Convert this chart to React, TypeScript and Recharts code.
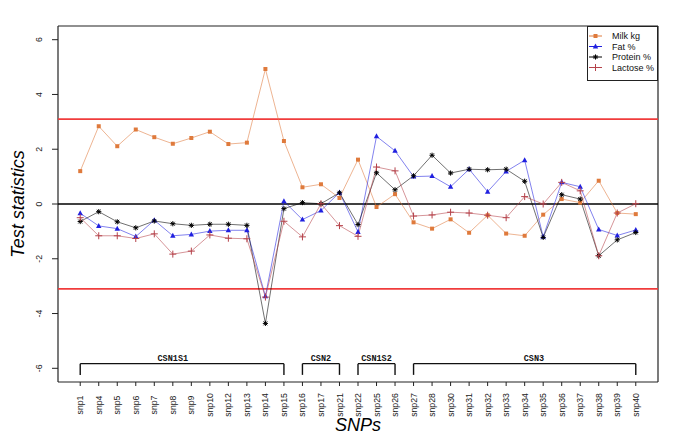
import { LineChart, Line, XAxis, YAxis, ReferenceLine, ReferenceDot, Legend } from "recharts";

const snps = [
    "snp1", "snp4", "snp5", "snp6", "snp7", "snp8", "snp9", "snp10", "snp12", "snp13", "snp14", "snp15",
    "snp16", "snp17", "snp21", "snp22", "snp25", "snp26", "snp27", "snp28", "snp30", "snp31", "snp32",
    "snp33", "snp34", "snp35", "snp36", "snp37", "snp38", "snp39", "snp40",
];

const milk = [1.2, 2.84, 2.11, 2.72, 2.44, 2.2, 2.41, 2.64, 2.19, 2.24, 4.93, 2.3, 0.61, 0.72, 0.22, 1.62, -0.11, 0.36, -0.67, -0.9, -0.56, -1.05, -0.41, -1.08, -1.16, -0.39, 0.18, 0.05, 0.85, -0.33, -0.37];
const fat = [-0.34, -0.8, -0.9, -1.19, -0.59, -1.16, -1.11, -0.99, -0.96, -0.96, -3.37, 0.1, -0.57, -0.24, 0.42, -1.02, 2.47, 1.94, 1.0, 1.02, 0.63, 1.27, 0.45, 1.19, 1.6, -1.2, 0.79, 0.63, -0.93, -1.15, -0.95];
const protein = [-0.64, -0.28, -0.65, -0.87, -0.62, -0.72, -0.78, -0.74, -0.74, -0.78, -4.36, -0.17, 0.05, 0.01, 0.41, -0.75, 1.14, 0.52, 1.03, 1.78, 1.13, 1.27, 1.25, 1.27, 0.83, -1.22, 0.34, 0.18, -1.89, -1.31, -1.04];
const lactose = [-0.5, -1.16, -1.16, -1.26, -1.09, -1.83, -1.72, -1.13, -1.25, -1.27, -3.4, -0.63, -1.2, 0.01, -0.79, -1.18, 1.35, 1.21, -0.44, -0.4, -0.3, -0.33, -0.41, -0.5, 0.27, 0.0, 0.79, 0.48, -1.89, -0.33, 0.01];

// gene blocks on the snp index scale
const genes = ["CSN1S1", "CSN2", "CSN1S2", "CSN3"];
const geneStart = [0, 12, 15, 18];
const geneEnd = [11, 14, 17, 30];
const geneLabelAt = [5, 13, 16, 24.5];

const yTicks = [-6, -4, -2, 0, 2, 4, 6];
const threshold = 3.1;

const ORANGE = "#DF7A3C";
const BLUE = "#2020E0";
const BLACK = "#000000";
const RED = "#B5424A";
const FONT = "'Liberation Sans', Arial, sans-serif";

const rows = snps.map((name, i) => ({
    idx: i,
    name,
    milk: milk[i],
    fat: fat[i],
    protein: protein[i],
    lactose: lactose[i],
}));

const Square = ({ cx, cy }: any) => (
    <rect x={cx - 2} y={cy - 2} width={4} height={4} fill={ORANGE} />
);
const Triangle = ({ cx, cy }: any) => (
    <polygon points={`${cx},${cy - 3} ${cx - 2.7},${cy + 2} ${cx + 2.7},${cy + 2}`} fill={BLUE} />
);
const Star = ({ cx, cy }: any) => (
    <g stroke={BLACK} strokeWidth={1}>
        <line x1={cx - 2.6} y1={cy} x2={cx + 2.6} y2={cy} />
        <line x1={cx} y1={cy - 2.6} x2={cx} y2={cy + 2.6} />
        <line x1={cx - 1.9} y1={cy - 1.9} x2={cx + 1.9} y2={cy + 1.9} />
        <line x1={cx - 1.9} y1={cy + 1.9} x2={cx + 1.9} y2={cy - 1.9} />
    </g>
);
const Plus = ({ cx, cy }: any) => (
    <g stroke={RED} strokeWidth={1}>
        <line x1={cx - 3.5} y1={cy} x2={cx + 3.5} y2={cy} />
        <line x1={cx} y1={cy - 3.5} x2={cx} y2={cy + 3.5} />
    </g>
);

const series = [
    { key: "milk", label: "Milk kg", color: ORANGE, Marker: Square },
    { key: "fat", label: "Fat %", color: BLUE, Marker: Triangle },
    { key: "protein", label: "Protein %", color: BLACK, Marker: Star },
    { key: "lactose", label: "Lactose %", color: RED, Marker: Plus },
];

const XTick = ({ x, y, payload }: any) => (
    <g transform={`translate(${x},${y + 17}) rotate(-90)`}>
        <text textAnchor="middle" dy="0.35em" fontSize={8.7} fontFamily={FONT} fill="#222">
            {snps[payload.value]}
        </text>
    </g>
);

const YTick = ({ x, y, payload }: any) => (
    <g transform={`translate(${x - 8},${y}) rotate(-90)`}>
        <text textAnchor="middle" fontSize={8.7} fontFamily={FONT} fill="#222">
            {payload.value}
        </text>
    </g>
);

const YTitle = ({ viewBox }: any) => (
    <text
        transform={`translate(24,${viewBox.y + viewBox.height / 2}) rotate(-90)`}
        textAnchor="middle"
        fontSize={18}
        fontStyle="italic"
        fontFamily={FONT}
    >
        Test statistics
    </text>
);

const XTitle = ({ viewBox }: any) => (
    <text
        x={viewBox.x + viewBox.width / 2}
        y={431}
        textAnchor="middle"
        fontSize={18}
        fontStyle="italic"
        fontFamily={FONT}
    >
        SNPs
    </text>
);

const LegendBox = () => (
    <svg width={71} height={55} style={{ display: "block" }}>
        <rect x={0.5} y={0.5} width={70} height={54} fill="#fff" stroke="#222" />
        {series.map((s, i) => {
            const cy = 10 + i * 10.5;
            return (
                <g key={s.key}>
                    <line x1={2} y1={cy} x2={15} y2={cy} stroke={s.color} strokeWidth={1} />
                    <s.Marker cx={8.5} cy={cy} />
                    <text x={25} y={cy} dy="0.35em" fontSize={9} fontFamily={FONT} fill="#111">
                        {s.label}
                    </text>
                </g>
            );
        })}
    </svg>
);

const GeneLabel = ({ cx, cy, text }: any) => (
    <text
        x={cx}
        y={cy}
        dy="0.35em"
        textAnchor="middle"
        fontSize={8.5}
        fontWeight="bold"
        fontFamily="'Liberation Mono', 'Courier New', monospace"
        fill="#111"
    >
        {text}
    </text>
);

export default function App() {
    return (
        <div style={{ position: "absolute", left: 0, top: 0, background: "#fff" }}>
            <LineChart
                width={685}
                height={441}
                data={rows}
                margin={{ top: 26, right: 27, bottom: 0, left: 0 }}
            >
                <XAxis
                    type="number"
                    dataKey="idx"
                    domain={[-1.2, 31.2]}
                    ticks={snps.map((_, i) => i)}
                    interval={0}
                    tick={<XTick />}
                    tickSize={4}
                    tickLine={{ stroke: "#222" }}
                    axisLine={false}
                    height={59}
                    label={<XTitle />}
                />
                <YAxis
                    type="number"
                    domain={[-6.5, 6.5]}
                    ticks={yTicks}
                    interval={0}
                    tick={<YTick />}
                    tickSize={6}
                    tickLine={{ stroke: "#222" }}
                    axisLine={false}
                    width={58}
                    allowDataOverflow
                    label={<YTitle />}
                />
                <Legend
                    layout="vertical"
                    align="center"
                    verticalAlign="middle"
                    content={<LegendBox />}
                    wrapperStyle={{ left: 587, top: 26, width: 71, height: 55 }}
                />

                {/* frame */}
                <ReferenceLine x={-1.2} stroke="#222" strokeWidth={1.2} />
                <ReferenceLine x={31.2} stroke="#222" strokeWidth={1.2} />
                <ReferenceLine y={6.5} stroke="#222" strokeWidth={1.2} />
                <ReferenceLine y={-6.5} stroke="#222" strokeWidth={1.2} />

                <ReferenceLine y={0} stroke="#000" strokeWidth={1.5} />
                <ReferenceLine y={threshold} stroke="#F03C3C" strokeWidth={1.8} />
                <ReferenceLine y={-threshold} stroke="#F03C3C" strokeWidth={1.8} />

                {genes.map((g, i) => (
                    <ReferenceLine
                        key={g + "h"}
                        segment={[
                            { x: geneStart[i], y: -5.83 },
                            { x: geneEnd[i], y: -5.83 },
                        ]}
                        stroke="#111"
                        strokeWidth={1.4}
                    />
                ))}
                {genes.map((g, i) => (
                    <ReferenceLine
                        key={g + "a"}
                        segment={[
                            { x: geneStart[i], y: -5.83 },
                            { x: geneStart[i], y: -6.24 },
                        ]}
                        stroke="#111"
                        strokeWidth={1.4}
                    />
                ))}
                {genes.map((g, i) => (
                    <ReferenceLine
                        key={g + "b"}
                        segment={[
                            { x: geneEnd[i], y: -5.83 },
                            { x: geneEnd[i], y: -6.24 },
                        ]}
                        stroke="#111"
                        strokeWidth={1.4}
                    />
                ))}
                {genes.map((g, i) => (
                    <ReferenceDot
                        key={g + "t"}
                        x={geneLabelAt[i]}
                        y={-5.64}
                        r={0}
                        shape={(p: any) => <GeneLabel cx={p.cx} cy={p.cy} text={g} />}
                    />
                ))}

                {series.map((s) => (
                    <Line
                        key={s.key}
                        dataKey={s.key}
                        stroke={s.color}
                        strokeWidth={0.75}
                        strokeOpacity={0.75}
                        isAnimationActive={false}
                        dot={(p: any) => <s.Marker key={s.key + p.index} cx={p.cx} cy={p.cy} />}
                        activeDot={false}
                    />
                ))}
            </LineChart>
        </div>
    );
}
